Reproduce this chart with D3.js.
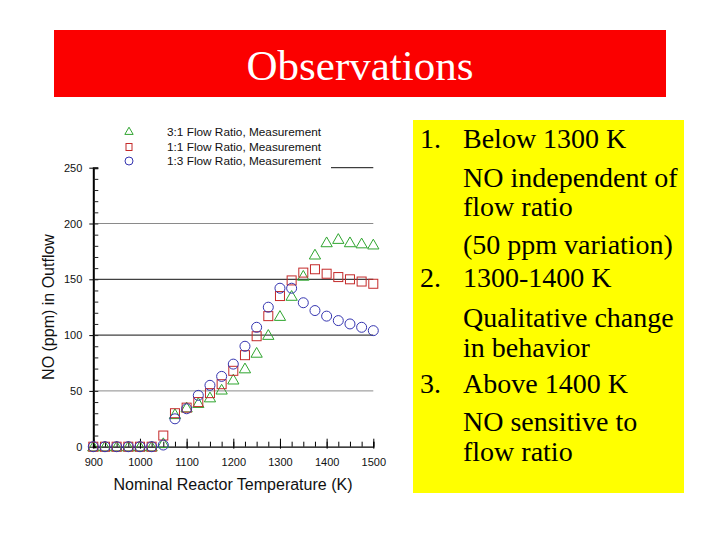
<!DOCTYPE html>
<html>
<head>
<meta charset="utf-8">
<script src="https://cdn.jsdelivr.net/npm/d3@7"></script>
<style>
  body { margin: 0; background: #fff; }
  svg { display: block; }
</style>
</head>
<body>
<div id="chart"></div>
<script>
const temps = [900, 925, 950, 975, 1000, 1025, 1050, 1075, 1100, 1125, 1150, 1175, 1200,
  1225, 1250, 1275, 1300, 1325, 1350, 1375, 1400, 1425, 1450, 1475, 1500];
const ratio31 = [0, 0, 0, 0, 0, 0, 3, 29, 35, 39, 44, 51, 60,
  70, 84, 100, 117, 135, 153, 172, 183, 186, 183, 182, 181];
const ratio11 = [0, 0, 0, 0, 0, 0, 10, 30, 35, 40, 48, 56, 68,
  82, 99, 117, 135, 149, 156, 159, 155, 152, 150, 148, 146];
const ratio13 = [0, 0, 0, 0, 0, 0, 1.5, 25, 34, 46, 55, 63, 74,
  90, 107, 125, 142, 142, 129, 122, 117, 113, 110, 107, 104];
const seriesNames = ["3:1 Flow Ratio, Measurement", "1:1 Flow Ratio, Measurement", "1:3 Flow Ratio, Measurement"];
const yTicks = [0, 50, 100, 150, 200, 250];
const xTicks = [900, 1000, 1100, 1200, 1300, 1400, 1500];
const notes = [
  ["1.", "Below 1300 K"], ["", "NO independent of"], ["", "flow ratio"], ["", "(50 ppm variation)"],
  ["2.", "1300-1400 K"], ["", "Qualitative change"], ["", "in behavior"],
  ["3.", "Above 1400 K"], ["", "NO sensitive to"], ["", "flow ratio"]
];

const svg = d3.select("#chart").append("svg")
  .attr("width", 720).attr("height", 540);

// title bar
svg.append("rect").attr("x", 54).attr("y", 30).attr("width", 612).attr("height", 67)
  .attr("fill", "#fb0000");
svg.append("text").attr("x", 360).attr("y", 80).attr("text-anchor", "middle")
  .style("font-family", "'Liberation Serif', 'Times New Roman', serif")
  .style("font-size", "43px").attr("fill", "#fff").text("Observations");

// notes box
svg.append("rect").attr("x", 413).attr("y", 120).attr("width", 271).attr("height", 373)
  .attr("fill", "#ffff00");
const noteY = [148, 187, 216, 254, 287, 327, 357, 393, 431, 461];
const noteG = svg.append("g")
  .style("font-family", "'Liberation Serif', 'Times New Roman', serif")
  .style("font-size", "28px").attr("fill", "#000");
notes.forEach((n, i) => {
  noteG.append("text").attr("x", 420).attr("y", noteY[i]).text(n[0]);
  noteG.append("text").attr("x", 463).attr("y", noteY[i]).text(n[1]);
});

// chart
const x = d3.scaleLinear().domain([900, 1500]).range([93.3, 373.3]);
const y = d3.scaleLinear().domain([0, 250]).range([446.7, 167.7]);
const font = "'Liberation Sans', Arial, sans-serif";

const chart = svg.append("g");

// gridlines
[50, 200].forEach(v => chart.append("line")
  .attr("x1", x(900)).attr("x2", x(1500)).attr("y1", y(v)).attr("y2", y(v))
  .attr("stroke", "#8a8a8a").attr("stroke-width", 1));
[100, 150].forEach(v => chart.append("line")
  .attr("x1", x(900)).attr("x2", x(1500)).attr("y1", y(v)).attr("y2", y(v))
  .attr("stroke", "#111").attr("stroke-width", 1));
chart.append("line").attr("x1", 331).attr("x2", x(1500)).attr("y1", y(250)).attr("y2", y(250))
  .attr("stroke", "#111").attr("stroke-width", 1);

// y axis
const yAxis = chart.append("g").attr("transform", `translate(${x(900)},0)`)
  .call(d3.axisRight(y).tickValues(d3.range(0, 251, 10)).tickSize(5).tickFormat(""));
yAxis.select(".domain").attr("stroke-width", 2);
yAxis.selectAll(".tick line").attr("stroke", "#222");
chart.append("g").attr("transform", `translate(${x(900)},0)`)
  .call(d3.axisLeft(y).tickValues(yTicks).tickSize(4).tickPadding(7))
  .call(g => g.select(".domain").remove())
  .call(g => g.selectAll("text").style("font-family", font).style("font-size", "11px").attr("fill", "#111"));

// x axis
const xAxis = chart.append("g").attr("transform", `translate(0,${y(0)})`)
  .call(d3.axisTop(x).tickValues(d3.range(900, 1501, 25)).tickSize(5).tickFormat(""));
xAxis.select(".domain").attr("stroke-width", 1.2);
chart.append("g").attr("transform", `translate(0,${y(0)})`)
  .call(d3.axisTop(x).tickValues(xTicks).tickSize(8).tickFormat(""))
  .call(g => g.select(".domain").remove());
chart.append("g").attr("transform", `translate(0,${y(0)})`)
  .call(d3.axisBottom(x).tickValues(xTicks).tickSize(2).tickPadding(10).tickFormat(d3.format("d")))
  .call(g => g.select(".domain").remove())
  .call(g => g.selectAll("text").style("font-family", font).style("font-size", "11px").attr("fill", "#111"));

// axis titles
chart.append("text").attr("x", 233).attr("y", 490).attr("text-anchor", "middle")
  .style("font-family", font).style("font-size", "16px").attr("fill", "#111")
  .text("Nominal Reactor Temperature (K)");
chart.append("text").attr("transform", `translate(54,${307}) rotate(-90)`)
  .attr("text-anchor", "middle")
  .style("font-family", font).style("font-size", "16px").attr("fill", "#111")
  .text("NO (ppm) in Outflow");

// markers
const green = "#2fa52f", red = "#c42a2a", blue = "#3535b0";
const tri = d3.symbol().type(d3.symbolTriangle).size(55);
const triSmall = d3.symbol().type(d3.symbolTriangle).size(30);

chart.append("g").selectAll("path").data(temps)
  .join("path")
  .attr("d", tri)
  .attr("transform", (d, i) => `translate(${x(d)},${y(ratio31[i]) + 1})`)
  .attr("fill", "none").attr("stroke", green).attr("stroke-width", 1);

chart.append("g").selectAll("rect").data(temps)
  .join("rect")
  .attr("x", d => x(d) - 4.5).attr("y", (d, i) => y(ratio11[i]) - 4.5)
  .attr("width", 9).attr("height", 9)
  .attr("fill", "none").attr("stroke", red).attr("stroke-width", 1);

chart.append("g").selectAll("circle").data(temps)
  .join("circle")
  .attr("cx", d => x(d)).attr("cy", (d, i) => y(ratio13[i]))
  .attr("r", 5)
  .attr("fill", "none").attr("stroke", blue).attr("stroke-width", 1);

// legend
const legend = chart.append("g");
const legY = [132, 147, 161];
legend.append("path").attr("d", triSmall).attr("transform", `translate(129,${legY[0]})`)
  .attr("fill", "none").attr("stroke", green);
legend.append("rect").attr("x", 126).attr("y", legY[1] - 3.5).attr("width", 6).attr("height", 7)
  .attr("fill", "none").attr("stroke", red);
legend.append("circle").attr("cx", 129).attr("cy", legY[2]).attr("r", 4)
  .attr("fill", "none").attr("stroke", blue);
seriesNames.forEach((s, i) => legend.append("text")
  .attr("x", 167).attr("y", legY[i] + 4)
  .style("font-family", font).style("font-size", "11.8px").attr("fill", "#111").text(s));
</script>
</body>
</html>
